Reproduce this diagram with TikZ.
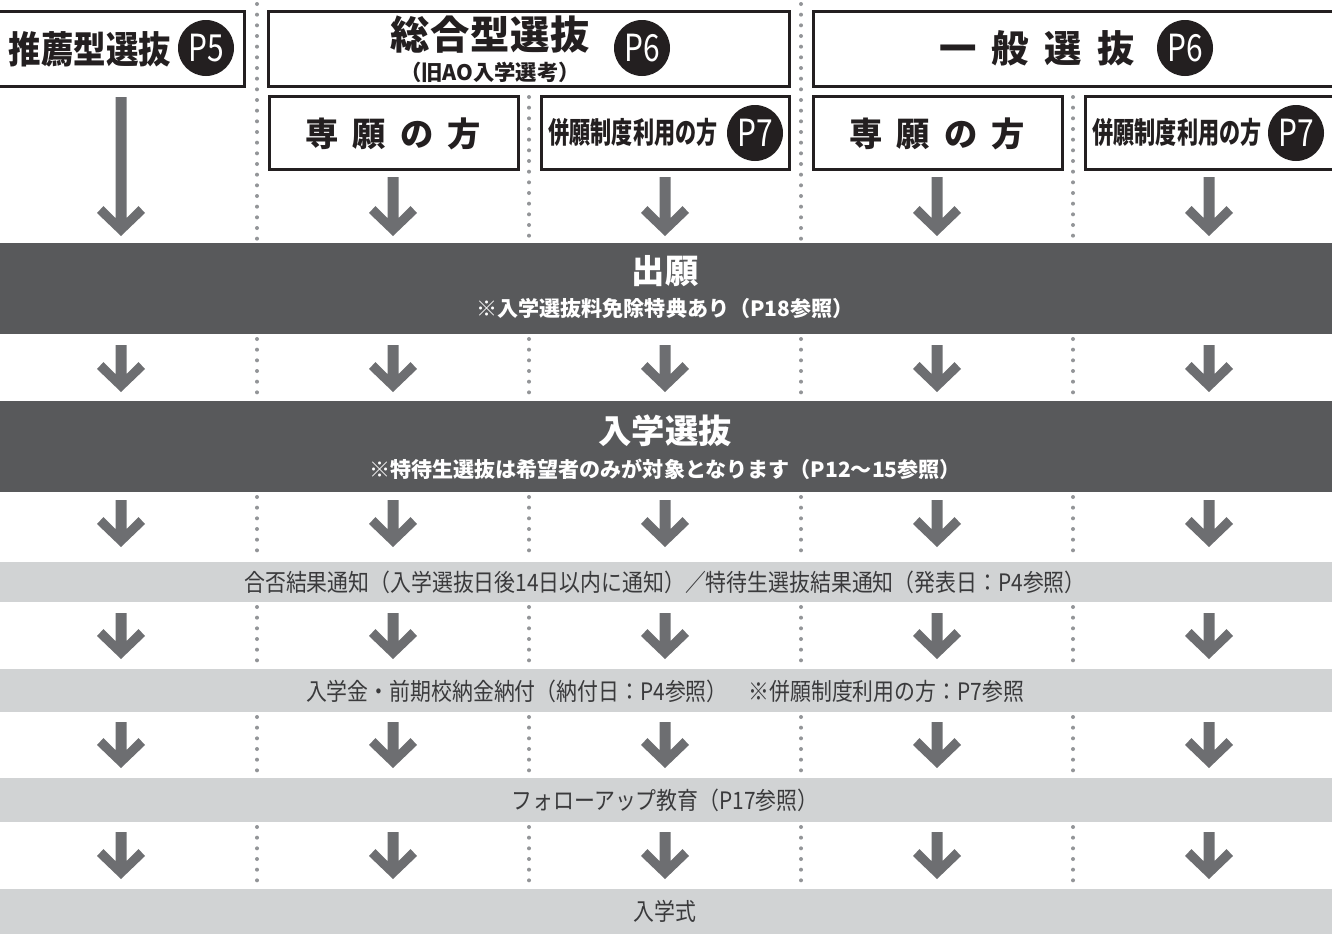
\documentclass[tikz,border=0pt]{standalone}
\usepackage{fontspec}
\newfontfamily\jpfont{Noto Sans CJK JP}
\newfontfamily\jpcond{Noto Sans CJK JP}[FakeStretch=0.87]
\newfontfamily\jpnarrow{Noto Sans CJK JP}[FakeStretch=0.72]
\newfontfamily\jpbadge{Noto Sans CJK JP}[FakeStretch=0.8]

\definecolor{framecol}{HTML}{231F20}
\definecolor{darkband}{HTML}{58595B}
\definecolor{lightband}{HTML}{D1D3D4}
\definecolor{arrowcol}{HTML}{6D6E71}
\definecolor{dotcol}{HTML}{939598}
\definecolor{notecol}{HTML}{3A3A3C}

\newcommand{\gapa}{\hspace{0.5pt}}
\newcommand{\gapb}{\hspace{11.5pt}}
\newcommand{\gapc}{\hspace{10.5pt}}

% block arrow: #1 centre x, #2 top of shaft, #3 tip
\newcommand{\flowarrow}[3]{%
  \fill[arrowcol] (#1,#3) -- ++(-24,-23) -- ++(6.5,-7) -- ++(12,12)
    -- ({#1-5.5},#2) -- ({#1+5.5},#2) -- ({#1+5.5},{#3-18})
    -- ++(12,-12) -- ++(6.5,7) -- cycle;}

\begin{document}
\begin{tikzpicture}[x=0.75pt,y=-0.75pt]

        \tikzset{
          headbox/.style={draw=framecol, line width=2.25pt, fill=white},
          badge/.style={circle, fill=framecol, text=white, minimum size=42pt,
            inner sep=0pt, font=\jpbadge\fontsize{28}{28}\selectfont},
          headtext/.style={inner sep=0pt, text=framecol},
          bandtitle/.style={inner sep=0pt, text=white,
            font=\jpfont\bfseries\fontsize{25}{25}\selectfont},
          bandnote/.style={inner sep=0pt, text=white,
            font=\jpfont\bfseries\fontsize{15.8}{15.8}\selectfont},
          steptext/.style={inner sep=0pt, text=notecol,
            font=\jpcond\fontsize{18}{18}\selectfont},
          sepline/.style={dotcol, line width=3pt, line cap=round,
            dash pattern=on 0pt off 8pt}
        }

        \useasboundingbox (0,0) rectangle (1332,933);

        % bands
        \fill[darkband]  (0,243) rectangle (1332,334);
        \fill[darkband]  (0,401) rectangle (1332,492);
        \fill[lightband] (0,562) rectangle (1332,602);
        \fill[lightband] (0,669) rectangle (1332,712);
        \fill[lightband] (0,778) rectangle (1332,822);
        \fill[lightband] (0,889) rectangle (1332,940);

        % dotted column separators
        \foreach \sx in {257,801}
          \draw[sepline] (\sx,4) -- (\sx,241);
        \foreach \sx in {529,1073}
          \draw[sepline] (\sx,97) -- (\sx,241);
        \foreach \sx in {257,529,801,1073}
          \foreach \a/\b in {334/401,492/562,602/669,712/778,822/889}
            \draw[sepline] (\sx,{\a+5}) -- (\sx,{\b-2});

        % arrows
        \flowarrow{121}{97}{236}
        \foreach \cx in {393,665,937,1209}{
          \flowarrow{\cx}{177}{236}
        }
        \foreach \cx in {121,393,665,937,1209}{
          \foreach \t/\b in {345/392,500/547,613/659,722/768,832/879}{
            \flowarrow{\cx}{\t}{\b}
          }
        }

        % heading boxes
        \draw[headbox] (-5,11.5)   rectangle (244.5,86.5);
        \draw[headbox] (268.5,11.5) rectangle (789,86.5);
        \draw[headbox] (813.5,11.5) rectangle (1340,86.5);
        \draw[headbox] (269.5,96.5) rectangle (518,169);
        \draw[headbox] (541.5,96.5) rectangle (789,169);
        \draw[headbox] (813.5,96.5) rectangle (1062,169);
        \draw[headbox] (1085.5,96.5) rectangle (1340,169);

        \node[headtext, font=\jpcond\bfseries\fontsize{28}{28}\selectfont]
          (suisen) at (90,49) {推薦型選抜};
        \node[badge] (p5) at (206,48) {P5};

        \node[headtext, font=\jpfont\bfseries\fontsize{29.5}{29.5}\selectfont]
          (sogo) at (490,35) {総\gapa 合\gapa 型\gapa 選\gapa 抜};
        \node[headtext, font=\jpfont\bfseries\fontsize{16}{16}\selectfont]
          (sogosub) at (490,72) {（旧AO入学選考）};
        \node[badge] (p6a) at (642,48) {P6};

        \node[headtext, font=\jpfont\bfseries\fontsize{28}{28}\selectfont]
          (ippan) at (1037,48) {一\gapb 般\gapb 選\gapb 抜};
        \node[badge] (p6b) at (1185,48) {P6};

        \node[headtext, font=\jpfont\bfseries\fontsize{25}{25}\selectfont]
          (senA) at (393,134) {専\gapc 願\gapc の\gapc 方};
        \node[headtext, font=\jpnarrow\bfseries\fontsize{22}{22}\selectfont]
          (heiA) at (633,132) {併願制度利用の方};
        \node[badge] (p7a) at (755,133) {P7};

        \node[headtext, font=\jpfont\bfseries\fontsize{25}{25}\selectfont]
          (senB) at (937,134) {専\gapc 願\gapc の\gapc 方};
        \node[headtext, font=\jpnarrow\bfseries\fontsize{22}{22}\selectfont]
          (heiB) at (1177,132) {併願制度利用の方};
        \node[badge] (p7b) at (1296,133) {P7};

        % band texts
        \node[bandtitle] (apply) at (665,271) {出願};
        \node[bandnote] (applynote) at (665,308) {※入学選抜料免除特典あり（P18参照）};
        \node[bandtitle] (exam) at (665,431) {入学選抜};
        \node[bandnote] (examnote) at (665,469)
          {※特待生選抜は希望者のみが対象となります（P12〜15参照）};

        \node[steptext] (result) at (665,582)
          {合否結果通知（入学選抜日後14日以内に通知）／特待生選抜結果通知（発表日：P4参照）};
        \node[steptext] (payment) at (665,691)
          {入学金・前期校納金納付（納付日：P4参照）　※併願制度利用の方：P7参照};
        \node[steptext] (follow) at (665,800) {フォローアップ教育（P17参照）};
        \node[steptext] (ceremony) at (665,911) {入学式};

\end{tikzpicture}
\end{document}
